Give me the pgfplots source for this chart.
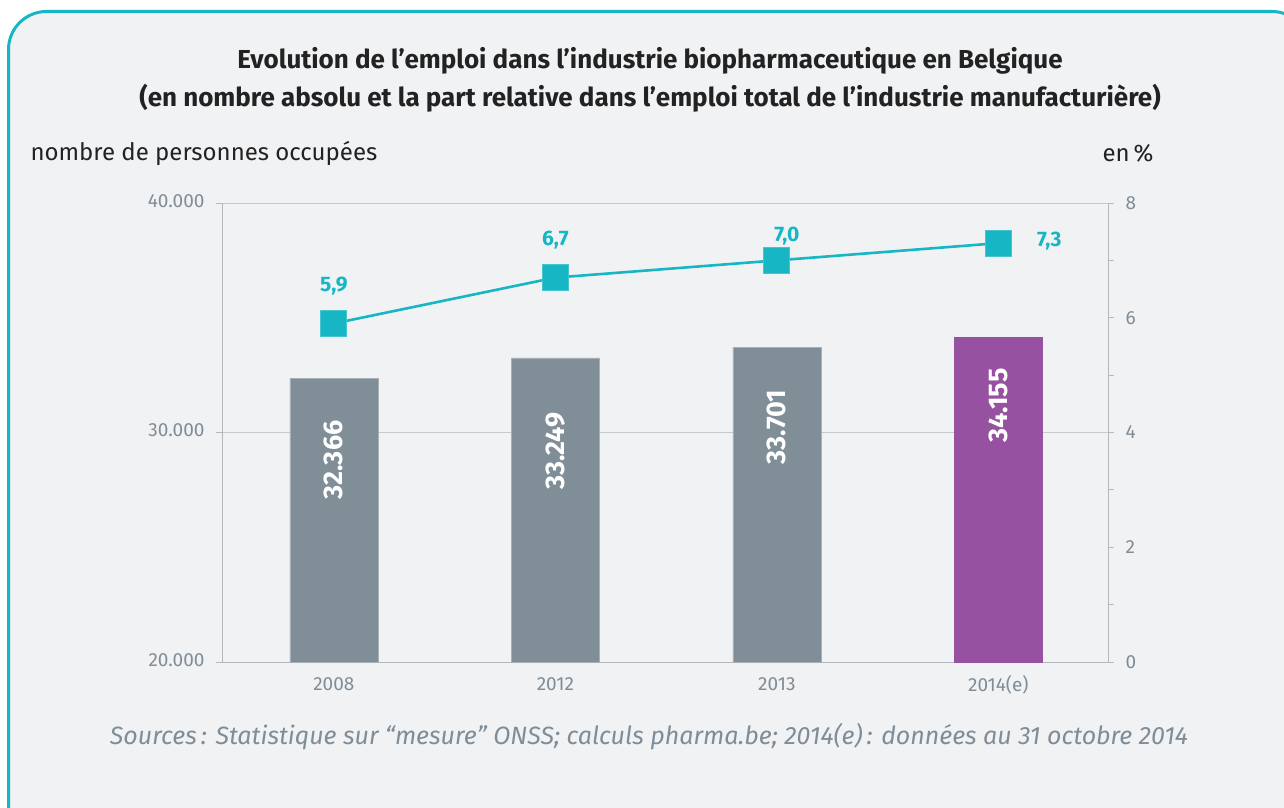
\documentclass[border=0pt]{standalone}
\usepackage{fontspec}
\setmainfont{Fira Sans}
\usepackage{pgfplots}
\pgfplotsset{compat=1.18}
\usepackage{pgfplotstable}

\definecolor{bgc}{HTML}{F1F2F4}
\definecolor{teal1}{HTML}{16B6C4}
\definecolor{bargray}{HTML}{808E97}
\definecolor{barpurple}{HTML}{9652A0}
\definecolor{tickc}{HTML}{7F8D98}
\definecolor{gridc}{HTML}{C6C9CC}
\definecolor{axc}{HTML}{B5B9BD}
\definecolor{textc}{HTML}{222222}

\pgfplotstableread{
x y lab dy
0 32366 32.366 -42
1 33249 33.249 -54
2 33701 33.701 -42
}\barsgray
\pgfplotstableread{
x y lab dy
3 34155 34.155 -31
}\barspurple
\pgfplotstableread{
x y lab dx dy
0 5.9 {5,9} 0 37
1 6.7 {6,7} 0 37
2 7.0 {7,0} 10 24
3 7.3 {7,3} 51 2
}\share

\begin{document}
\begin{tikzpicture}[x=1pt,y=1pt]
\useasboundingbox (0,0) rectangle (1284,807);
\begin{scope}
\clip (0,0) rectangle (1284,807);
\fill[white] (0,0) rectangle (1284,807);
\draw[line width=3pt, draw=teal1, fill=bgc, rounded corners=38pt] (8.5,-40) rectangle (1310,795.5);
\end{scope}

% title
\node[font=\fontsize{26}{38}\selectfont\bfseries, text=textc, align=center] at (650,807-80) {Evolution de l’emploi dans l’industrie biopharmaceutique en Belgique\\(en nombre absolu et la part relative dans l’emploi total de l’industrie manufacturière)};

\node[font=\fontsize{24}{28}\selectfont, text=textc, anchor=west] at (27,807-153) {nombre de personnes occupées};
\node[font=\fontsize{24}{28}\selectfont, text=textc, anchor=east] at (1157,807-153) {en\,\%};

\node[font=\fontsize{25}{30}\selectfont\itshape, text=tickc] at (649,807-737) {Sources\,: Statistique sur “mesure” ONSS; calculs pharma.be; 2014(e)\,: données au 31 octobre 2014};

\begin{axis}[
  at={(222pt,145pt)}, anchor=south west,
  scale only axis, width=886pt, height=459pt,
  xmin=-0.505, xmax=3.495, ymin=20000, ymax=40000,
  scaled y ticks=false,
  axis x line*=bottom, axis y line*=left,
  axis line style={draw=axc, line width=0.8pt},
  xtick={0,1,2,3}, xticklabels={2008,2012,2013,2014(e)},
  extra x ticks={-0.505,0.5,1.5,2.5,3.495}, extra x tick labels={},
  extra x tick style={major tick length=6pt, tick style={draw=axc, line width=0.8pt}, grid=none},
  x tick style={draw=none},
  ytick={20000,30000,40000}, yticklabels={20.000,30.000,40.000},
  y tick style={draw=axc, line width=0.8pt},
  major tick length=6pt,
  tick align=outside,
  ymajorgrids, grid style={draw=gridc, line width=0.8pt},
  ticklabel style={font=\fontsize{19}{22}\selectfont, text=tickc},
  typeset ticklabels with strut,
  xticklabel style={yshift=-4pt},
  yticklabel style={xshift=-8pt},
  clip=true,
]
\addplot[ybar, bar width=88pt, bar shift=0pt, fill=bargray, draw=bargray!70!white, line width=0.6pt,
  point meta=explicit symbolic,
  visualization depends on={\thisrow{dy}\as\dy},
  nodes near coords,
  nodes near coords style={yshift=\dy pt, rotate=90, anchor=east, text=white, font=\fontsize{27}{30}\selectfont\bfseries, inner sep=0pt},
] table[x=x, y=y, meta=lab] {\barsgray};
\addplot[ybar, bar width=88pt, bar shift=0pt, fill=barpurple, draw=barpurple, line width=0.6pt,
  point meta=explicit symbolic,
  visualization depends on={\thisrow{dy}\as\dy},
  nodes near coords,
  nodes near coords style={yshift=\dy pt, rotate=90, anchor=east, text=white, font=\fontsize{27}{30}\selectfont\bfseries, inner sep=0pt},
] table[x=x, y=y, meta=lab] {\barspurple};
\end{axis}

\begin{axis}[
  at={(222pt,145pt)}, anchor=south west,
  scale only axis, width=886pt, height=459pt,
  xmin=-0.505, xmax=3.495, ymin=0, ymax=8,
  axis x line=none, axis y line*=right,
  axis line style={draw=axc, line width=0.8pt},
  ytick={0,2,4,6,8}, yticklabels={0,2,4,6,8}, minor ytick={1,3,5,7},
  y tick style={draw=axc, line width=0.8pt},
  major tick length=6pt, minor tick length=6pt,
  tick align=outside,
  ticklabel style={font=\fontsize{19}{22}\selectfont, text=tickc},
  yticklabel style={xshift=8pt},
  clip=false,
]
\addplot[draw=teal1, line width=2.6pt, mark=square*, mark size=13pt,
  mark options={fill=teal1, draw=teal1!80!white, line width=0.8pt},
  point meta=explicit symbolic,
  visualization depends on={\thisrow{dx}\as\dx},
  visualization depends on={\thisrow{dy}\as\dy},
  nodes near coords,
  nodes near coords style={xshift=\dx pt, yshift=\dy pt, anchor=center, text=teal1, font=\fontsize{21}{24}\selectfont\bfseries},
] table[x=x, y=y, meta=lab] {\share};
\end{axis}
\end{tikzpicture}
\end{document}
